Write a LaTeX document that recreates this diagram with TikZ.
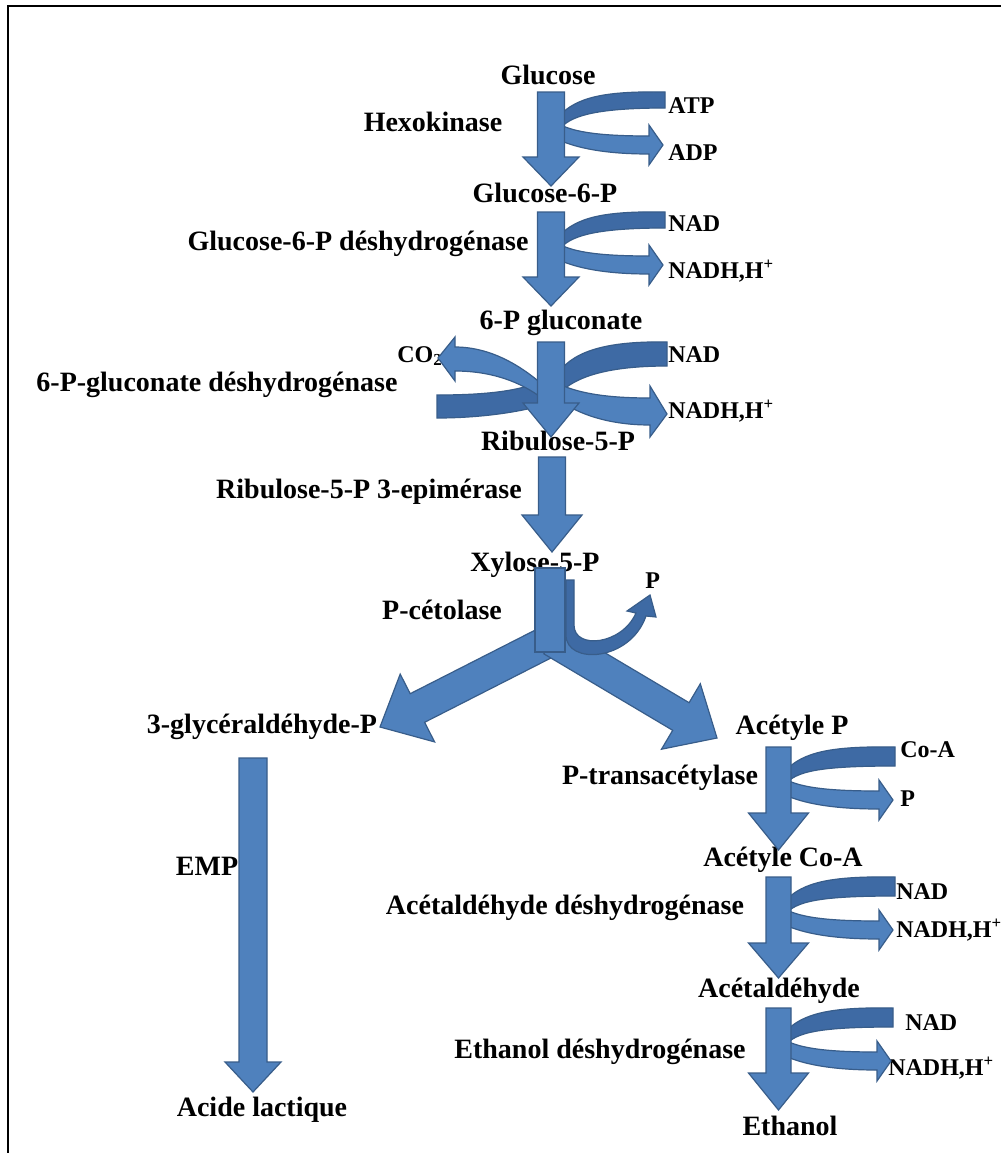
\documentclass[tikz,border=0pt]{standalone}
\usepackage{fontspec}
\setmainfont{Liberation Serif}
\definecolor{arrfill}{RGB}{79,129,189}
\definecolor{arrdark}{RGB}{62,106,164}
\definecolor{arrline}{RGB}{56,93,138}
\newcommand{\vArrow}[6]{%
  \path[arr] (#1-#5,#2) -- (#1+#5,#2) -- (#1+#5,#3) -- (#1+#6,#3) -- (#1,#4) -- (#1-#6,#3) -- (#1-#5,#3) -- cycle;}
\newcommand{\uTurn}[4]{%
  \begin{scope}[shift={(#1,#2)}]
    \path[arr] (-6,32) .. controls (10,41) and (40,44) .. (#3-16,44) -- (#3-16,33) -- (#3-2,53) -- (#3-16,73) -- (#3-16,62) .. controls (40,62) and (12,56) .. (-6,48) -- cycle;
    \path[darr] (#3,0) .. controls (40,-1) and (12,5) .. (-6,24) -- (-6,38) .. controls (4,24) and (30,#4) .. (#3,#4) -- cycle;
  \end{scope}}
\begin{document}
\begin{tikzpicture}[x=0.75pt,y=-0.75pt,
  lbl/.style={font=\fontsize{21}{25}\selectfont\bfseries, inner sep=0pt},
  sml/.style={font=\fontsize{18}{22}\selectfont\bfseries, inner sep=0pt, anchor=west},
  arr/.style={fill=arrfill, draw=arrline, line width=0.9pt, line join=miter},
  darr/.style={fill=arrdark, draw=arrline, line width=0.9pt, line join=miter}]
\useasboundingbox (0,0) rectangle (1001,1153);
\fill[white] (0,0) rectangle (1001,1153);
% frame (top and left only)
\draw[line width=2pt] (8,1153) -- (8,6) -- (1001,6);

% ---- labels ----
\node[lbl] (glc) at (548,75) {Glucose};
\node[lbl] (hex) at (433,122) {Hexokinase};
\node[sml] (atp) at (668,106) {ATP};
\node[sml] (adp) at (668,153) {ADP};
\node[lbl] (g6p) at (545,193) {Glucose-6-P};
\node[lbl] (g6pd) at (358,244) {Glucose-6-P déshydrogénase};
\node[sml] (nad1) at (668,224) {NAD};
\node[sml] (nadh1) at (668,271) {NADH,H\textsuperscript{+}};
\node[lbl] (pg) at (561,323) {6-P gluconate};
\node[sml] (co2) at (397,356) {CO\textsubscript{2}};
\node[lbl] (pgd) at (217,385) {6-P-gluconate déshydrogénase};
\node[sml] (nad2) at (668,355) {NAD};
\node[sml] (nadh2) at (668,411) {NADH,H\textsuperscript{+}};
\node[lbl] (ru5p) at (558,441) {Ribulose-5-P};
\node[lbl] (epi) at (369,492) {Ribulose-5-P 3-epimérase};
\node[lbl] (xu5p) at (535,565) {Xylose-5-P};
\node[sml] (pi1) at (645,581) {P};
\node[lbl] (pket) at (442,610) {P-cétolase};
\node[lbl] (gap) at (262,727) {3-glycéraldéhyde-P};
\node[lbl] (acp) at (792,728) {Acétyle P};
\node[sml] (coa) at (900,750) {Co-A};
\node[lbl] (pta) at (660,778) {P-transacétylase};
\node[sml] (pi2) at (900,799) {P};
\node[lbl] (emp) at (207,866) {EMP};
\node[lbl] (accoa) at (783,860) {Acétyle Co-A};
\node[lbl] (ald) at (565,908) {Acétaldéhyde déshydrogénase};
\node[sml] (nad3) at (896,892) {NAD};
\node[sml] (nadh3) at (896,930) {NADH,H\textsuperscript{+}};
\node[lbl] (acald) at (779,991) {Acétaldéhyde};
\node[sml] (nad4) at (905,1023) {NAD};
\node[lbl] (adh) at (600,1052) {Ethanol déshydrogénase};
\node[sml] (nadh4) at (888,1068) {NADH,H\textsuperscript{+}};
\node[lbl] (lac) at (262,1110) {Acide lactique};
\node[lbl] (eth) at (790,1126) {Ethanol};

% ---- step 1: hexokinase ----
\uTurn{565}{92}{100}{16}
\vArrow{551}{92}{157}{186}{13.5}{28}
% ---- step 2 ----
\uTurn{565}{212}{100}{16}
\vArrow{551}{212}{277}{306}{13.5}{28}
% ---- step 3: 6-P gluconate ----
\path[darr] (667,342) .. controls (610,341) and (575,350) .. (559,372) -- (559,394) .. controls (575,376) and (610,366) .. (667,366) -- cycle;
\path[arr] (559,384) .. controls (580,394) and (610,398) .. (650,398) -- (650,386) -- (667,414) -- (650,437) -- (650,425) .. controls (605,425) and (575,412) .. (559,400) -- cycle;
\path[darr] (437,395) .. controls (480,395) and (520,392) .. (543,380) -- (543,405) .. controls (520,412) and (480,418) .. (437,418) -- cycle;
\path[arr] (543,385) .. controls (520,365) and (490,347) .. (455,347) -- (455,337) -- (438,358) -- (455,381) -- (455,371) .. controls (490,371) and (520,381) .. (543,399) -- cycle;
\vArrow{551}{342}{403}{437}{13.5}{28}
% ---- step 4 ----
\vArrow{552}{457}{515}{552}{13.5}{30}
% ---- step 5: phosphocetolase split ----
\path[arr] (543.8,625.7) -- (410.2,693.7) -- (400.2,674.1) -- (380,727) -- (434.6,741.9) -- (424.6,722.3) -- (558.2,654.3) -- cycle;
\path[arr] (560.2,626.2) -- (689.1,702.7) -- (700.3,683.8) -- (717,738) -- (661.5,749.2) -- (672.7,730.3) -- (543.8,653.8) -- cycle;
\path[arr] (535,568) rectangle (565,652);
\path[darr] (566,580) -- (566,635) .. controls (566,665) and (630,662) .. (646,616) -- (656,617) -- (650,595) -- (627,611) -- (636,613) .. controls (622,645) and (574,650) .. (574,625) -- (574,580) -- cycle;
% ---- EMP ----
\vArrow{253}{758}{1062}{1092}{14}{28}
% ---- right chain ----
\uTurn{791}{747}{104}{19}
\vArrow{778.5}{747}{813}{850}{12.5}{30}
\uTurn{791}{877}{104}{19}
\vArrow{778.5}{877}{943}{978}{12.5}{30}
\uTurn{791}{1008}{102}{19}
\vArrow{778.5}{1008}{1073}{1110}{12.5}{30}
\end{tikzpicture}
\end{document}
